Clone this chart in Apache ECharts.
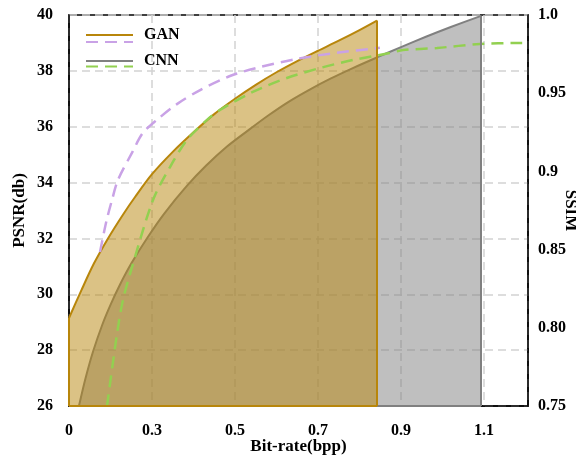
<!DOCTYPE html>
<html><head><meta charset="utf-8">
<script src="https://cdn.jsdelivr.net/npm/echarts@6/dist/echarts.min.js"></script>
<style>html,body{margin:0;padding:0;background:#fff}#c{width:576px;height:458px}</style>
</head><body><div id="c"></div>
<script>
// tick labels
const xTickLabels = ['0', '0.3', '0.5', '0.7', '0.9', '1.1'];
const ssimTickLabels = ['0.75', '0.80', '0.85', '0.9', '0.95', '1.0'];

// GAN PSNR curve (bit-rate axis units, dB)
const ganRate = [0, 0.03, 0.06, 0.094, 0.13, 0.16, 0.2, 0.25, 0.3, 0.35, 0.4, 0.45, 0.5, 0.55, 0.6, 0.65, 0.7, 0.742];
const ganPsnr = [29.15, 30.15, 31.1, 32.0, 32.85, 33.5, 34.3, 35.1, 35.8, 36.45, 37.0, 37.5, 37.95, 38.35, 38.72, 39.08, 39.46, 39.8];

// CNN PSNR curve
const cnnRate = [0.024, 0.04, 0.058, 0.08, 0.1, 0.123, 0.15, 0.19, 0.23, 0.284, 0.33, 0.38, 0.43, 0.48, 0.53, 0.58, 0.63, 0.684, 0.742, 0.8, 0.86, 0.92, 0.993];
const cnnPsnr = [26.0, 27.0, 27.95, 28.9, 29.62, 30.35, 31.1, 32.05, 32.9, 33.88, 34.6, 35.28, 35.85, 36.4, 36.9, 37.33, 37.72, 38.1, 38.48, 38.85, 39.22, 39.57, 39.97];

// GAN SSIM curve
const ganSsimRate = [0.0747, 0.09, 0.1036, 0.118, 0.152, 0.178, 0.212, 0.26, 0.316, 0.388, 0.45, 0.55, 0.65, 0.749];
const ganSsim = [0.8485, 0.868, 0.8817, 0.8945, 0.912, 0.9246, 0.933, 0.943, 0.952, 0.961, 0.966, 0.972, 0.976, 0.979];

// CNN SSIM curve
const cnnSsimRate = [0.0916, 0.116, 0.13, 0.152, 0.2024, 0.2434, 0.2843, 0.3325, 0.3639, 0.443, 0.525, 0.605, 0.684, 0.773, 0.805, 0.887, 0.99, 1.092];
const cnnSsim = [0.75, 0.7967, 0.8178, 0.8389, 0.8817, 0.9028, 0.9201, 0.9329, 0.9393, 0.9508, 0.9597, 0.9661, 0.9712, 0.9757, 0.9776, 0.9789, 0.9815, 0.9821];

const psnrMin = 26, psnrMax = 40, ssimMin = 0.75, ssimMax = 1.0, rateMax = 1.106;
const FONT = 'Liberation Serif';

function pairs(xs, ys) { return xs.map((x, i) => [x, ys[i]]); }
function last(a) { return a[a.length - 1]; }
// outline edges (left, right, bottom) of each filled region, in data coords
function edges(xs, ys) {
  const e = [];
  if (ys[0] > psnrMin) e.push([{ coord: [xs[0], psnrMin] }, { coord: [xs[0], ys[0]] }]);
  e.push([{ coord: [last(xs), last(ys)] }, { coord: [last(xs), psnrMin] }]);
  e.push([{ coord: [xs[0], psnrMin] }, { coord: [last(xs), psnrMin] }]);
  return e;
}

const labelFont = { fontFamily: FONT, fontWeight: 'bold', fontSize: 16, color: '#000' };
const nameFont = { fontFamily: FONT, fontWeight: 'bold', fontSize: 17, color: '#000' };
const gridLine = { show: true, lineStyle: { color: '#d2d2d2', type: [8, 5], width: 1.5 } };

const chart = echarts.init(document.getElementById('c'), null, { renderer: 'canvas' });
chart.setOption({
  animation: false,
  backgroundColor: '#fff',
  grid: { left: 69, right: 48, top: 15, bottom: 52, show: true, borderColor: '#000', borderWidth: 1.5,
          containLabel: false, outerBoundsMode: 'none' },
  legend: [
    { data: ['GAN', 'CNN'], orient: 'vertical', left: 80, top: 22, itemWidth: 47, itemHeight: 14, itemGap: 10,
      selectedMode: false, itemStyle: { opacity: 0 },
      textStyle: Object.assign({}, labelFont, { padding: [0, 0, 0, 6] }) },
    { data: ['GAN SSIM', 'CNN SSIM'], orient: 'vertical', left: 80, top: 30, itemWidth: 47, itemHeight: 14, itemGap: 12,
      selectedMode: false, itemStyle: { opacity: 0 }, formatter: () => '', textStyle: labelFont }
  ],
  xAxis: {
    type: 'value', min: 0, max: rateMax, interval: 0.2,
    name: 'Bit-rate(bpp)', nameLocation: 'middle', nameGap: 32, nameTextStyle: nameFont, nameMoveOverlap: false,
    axisLine: { lineStyle: { color: '#000', width: 1.5 } },
    axisTick: { show: false },
    axisLabel: Object.assign({}, labelFont, { margin: 17, formatter: v => {
      const i = Math.round(v / 0.2);
      return (Math.abs(v - i * 0.2) < 1e-6 && i < xTickLabels.length) ? xTickLabels[i] : '';
    } }),
    splitLine: gridLine
  },
  yAxis: [
    { type: 'value', min: psnrMin, max: psnrMax, interval: 2,
      name: 'PSNR(db)', nameLocation: 'middle', nameGap: 41, nameRotate: 90, nameTextStyle: nameFont, nameMoveOverlap: false,
      axisLine: { show: true, lineStyle: { color: '#000', width: 1.5 } },
      axisTick: { show: false },
      axisLabel: Object.assign({}, labelFont, { margin: 16 }),
      splitLine: gridLine },
    { type: 'value', min: ssimMin, max: ssimMax, interval: 0.05, position: 'right',
      name: 'SSIM', nameLocation: 'middle', nameGap: 34, nameRotate: -90, nameTextStyle: nameFont, nameMoveOverlap: false,
      axisLine: { show: true, lineStyle: { color: '#000', width: 1.5 } },
      axisTick: { show: false },
      axisLabel: Object.assign({}, labelFont, { margin: 10, formatter: v => {
        const i = Math.round((v - ssimMin) / 0.05);
        return ssimTickLabels[i] || '';
      } }),
      splitLine: { show: false } }
  ],
  series: [
    { name: 'CNN', type: 'line', data: pairs(cnnRate, cnnPsnr), symbol: 'none', z: 2, smooth: 0.3,
      lineStyle: { color: '#808080', width: 2 }, itemStyle: { color: '#808080' },
      areaStyle: { color: 'rgba(128,128,128,0.5)', opacity: 1, origin: 'start' },
      markLine: { silent: true, symbol: 'none', label: { show: false }, animation: false,
        lineStyle: { color: '#808080', width: 2, type: 'solid' }, data: edges(cnnRate, cnnPsnr) } },
    { name: 'GAN', type: 'line', data: pairs(ganRate, ganPsnr), symbol: 'none', z: 3, smooth: 0.3,
      lineStyle: { color: '#b8860b', width: 2 }, itemStyle: { color: '#b8860b' },
      areaStyle: { color: 'rgba(184,134,11,0.5)', opacity: 1, origin: 'start' },
      markLine: { silent: true, symbol: 'none', label: { show: false }, animation: false,
        lineStyle: { color: '#b8860b', width: 2, type: 'solid' }, data: edges(ganRate, ganPsnr) } },
    { name: 'GAN SSIM', type: 'line', yAxisIndex: 1, data: pairs(ganSsimRate, ganSsim), symbol: 'none', z: 4, smooth: 0.3,
      lineStyle: { color: '#c9a2e6', width: 2.5, type: [12, 7] }, itemStyle: { color: '#c9a2e6' } },
    { name: 'CNN SSIM', type: 'line', yAxisIndex: 1, data: pairs(cnnSsimRate, cnnSsim), symbol: 'none', z: 4, smooth: 0.3,
      lineStyle: { color: '#92d050', width: 2.5, type: [12, 7] }, itemStyle: { color: '#92d050' } }
  ]
});
</script></body></html>
